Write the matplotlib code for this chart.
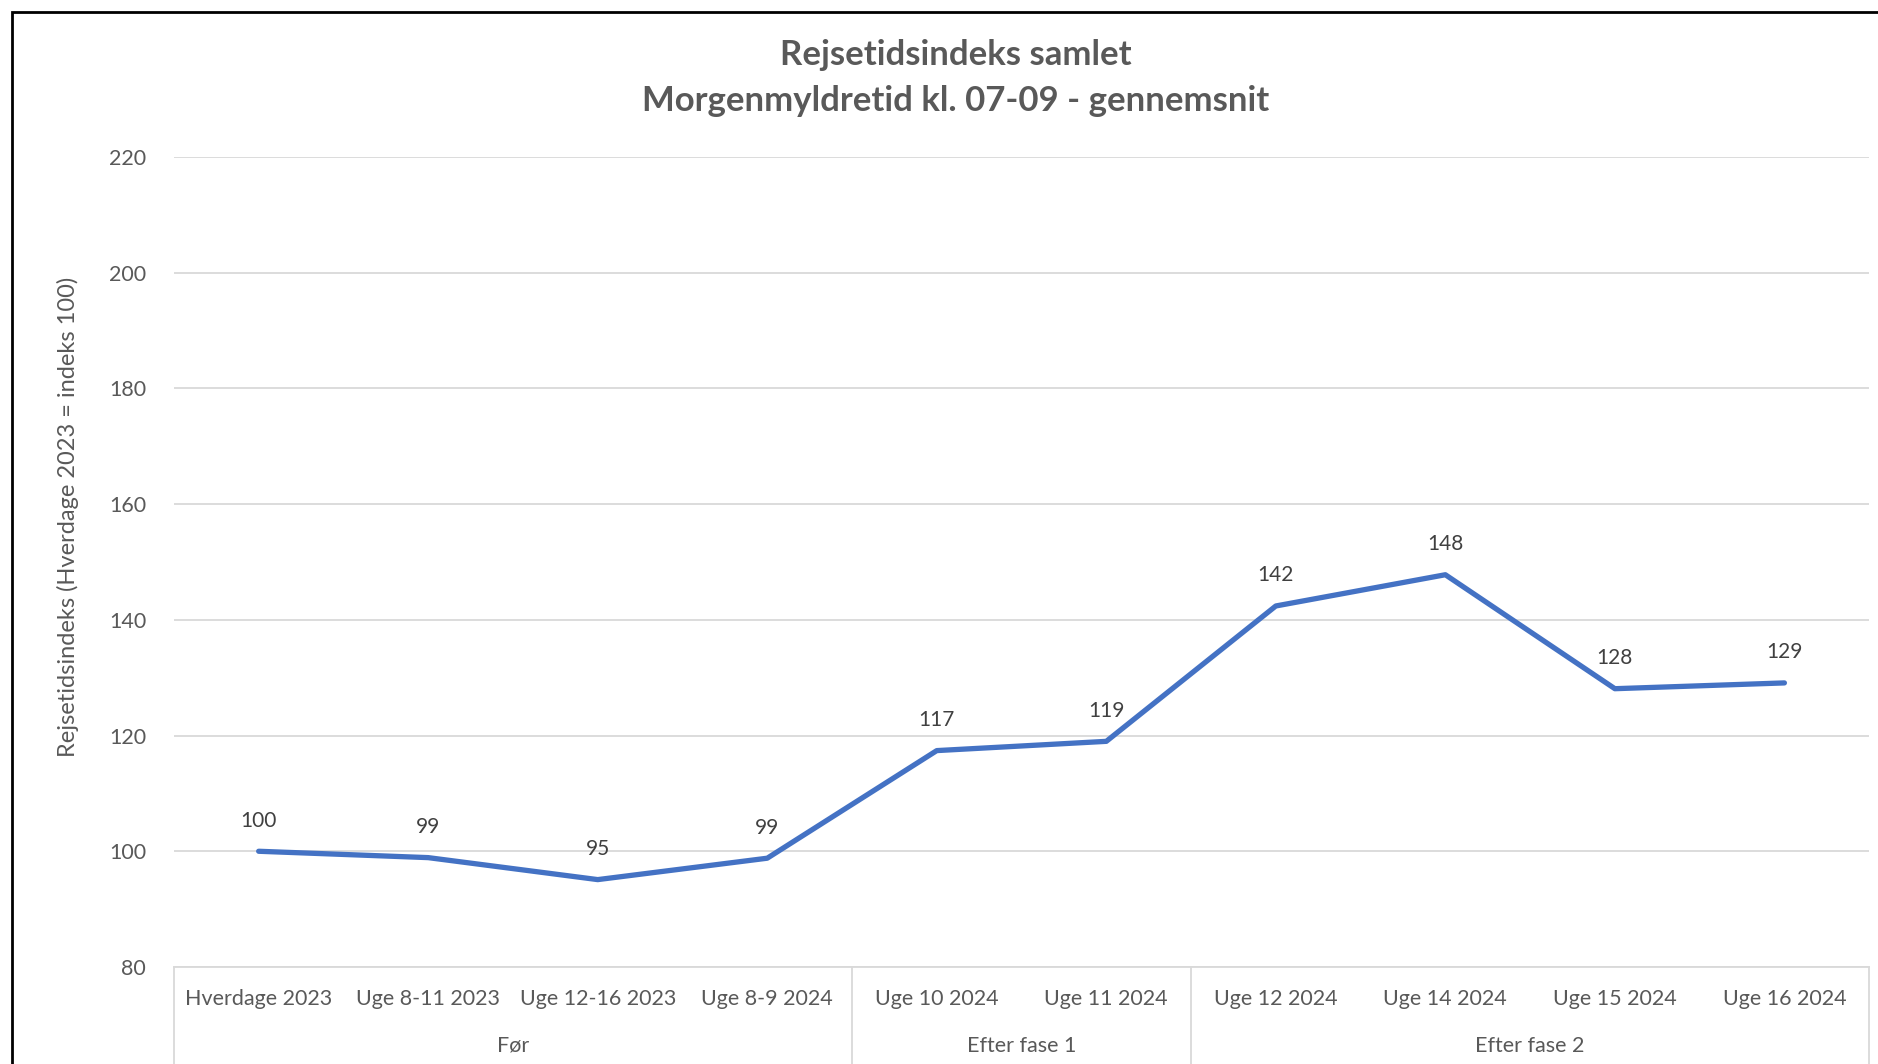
import matplotlib.pyplot as plt
from matplotlib.patches import Rectangle

plt.rcParams['font.family'] = ['Lato', 'DejaVu Sans']

# data
categories = ['Hverdage 2023', 'Uge 8-11 2023', 'Uge 12-16 2023', 'Uge 8-9 2024',
              'Uge 10 2024', 'Uge 11 2024',
              'Uge 12 2024', 'Uge 14 2024', 'Uge 15 2024', 'Uge 16 2024']
values = [100, 98.9, 95.1, 98.8, 117.4, 119.0, 142.4, 147.8, 128.1, 129.1]
groups = ['Før', 'Efter fase 1', 'Efter fase 2']
group_sizes = [4, 2, 4]

grey = '#595959'
fig = plt.figure(figsize=(18.78, 10.64), dpi=100)
ax = fig.add_axes([0.0926, 0.0912, 0.9027, 0.7612])

x = list(range(len(values)))
ax.plot(x, values, color='#4472C4', lw=3.8, solid_capstyle='round', solid_joinstyle='round', zorder=3)
for xi, v in zip(x, values):
    ax.annotate(f'{v:.0f}', (xi, v), xytext=(0, 22), textcoords='offset points',
                ha='center', va='center', fontsize=15, color='#404040')

ax.set_xlim(-0.5, len(values) - 0.5)
ax.set_ylim(80, 220)
ax.set_yticks(range(80, 221, 20))
ax.yaxis.grid(True, color='#D9D9D9', lw=1.3)
ax.set_axisbelow(True)
for s in ['left', 'right', 'top']:
    ax.spines[s].set_visible(False)
ax.spines['bottom'].set_color('#D9D9D9')
ax.spines['bottom'].set_linewidth(1.3)
ax.tick_params(axis='y', length=0, pad=20, labelsize=15.5, labelcolor=grey)
ax.set_xticks([])
ax.set_ylabel('Rejsetidsindeks (Hverdage 2023 = indeks 100)', fontsize=17, color=grey)
ax.yaxis.set_label_coords(-0.056, 0.556)

# category labels and group labels
trans = ax.get_xaxis_transform()
for xi, c in zip(x, categories):
    ax.text(xi, -0.04, c, transform=trans, ha='center', va='center', fontsize=15.5, color=grey)
start = 0
bounds = [-0.5]
for g, n in zip(groups, group_sizes):
    mid = start + (n - 1) / 2
    ax.text(mid, -0.097, g, transform=trans, ha='center', va='center', fontsize=15.5, color=grey)
    start += n
    bounds.append(start - 0.5)
for b in bounds:
    ax.plot([b, b], [0, -0.13], transform=trans, color='#D9D9D9', lw=1.3, clip_on=False)

fig.text(0.509, 0.948, 'Rejsetidsindeks samlet', ha='center', va='center',
         fontsize=25, fontweight='bold', color=grey)
fig.text(0.509, 0.905, 'Morgenmyldretid kl. 07-09 - gennemsnit', ha='center', va='center',
         fontsize=25, fontweight='bold', color=grey)

fig.patches.append(Rectangle((0.0064, -0.1), 1.2, 1.089, transform=fig.transFigure,
                             fill=False, edgecolor='black', lw=2))

fig.savefig('out.png')
